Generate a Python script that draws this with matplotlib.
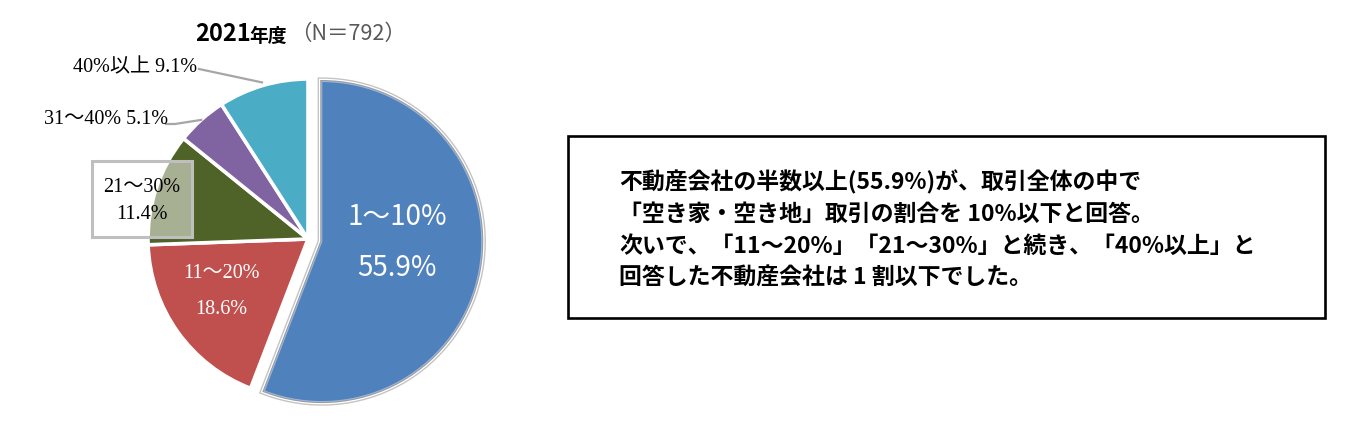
import numpy as np
import matplotlib.pyplot as plt
import matplotlib.patheffects as pe
from matplotlib.patches import Rectangle

# data
categories = ["1～10%", "11～20%", "21～30%", "31～40%", "40%以上"]
shares = [55.9, 18.6, 11.4, 5.1, 9.1]
colors = ["#4f81bd", "#c0504d", "#4f6228", "#8064a2", "#4bacc6"]
year_label = "2021年度"
n_total = 792
summary_lines = [
    "不動産会社の半数以上(55.9%)が、取引全体の中で",
    "「空き家・空き地」取引の割合を 10%以下と回答。",
    "次いで、「11～20%」「21～30%」と続き、「40%以上」と",
    "回答した不動産会社は 1 割以下でした。",
]

W, H = 1372, 427
SANS = ["Noto Sans CJK JP", "DejaVu Sans"]
SERIF = ["Liberation Serif", "Noto Sans CJK JP"]


def Y(y):
    # pixel row (from top) -> data y
    return H - y


fig = plt.figure(figsize=(W / 100, H / 100), dpi=100)
ax = fig.add_axes([0, 0, 1, 1])

# explode is in data units here (pixels)
wedges, _ = ax.pie(shares, colors=colors, startangle=90, counterclock=False,
                   center=(308, Y(240)), radius=160,
                   explode=[14, 0, 0, 0, 0],
                   wedgeprops=dict(edgecolor="white", linewidth=2.6))
ax.set_xlim(0, W)
ax.set_ylim(0, H)
ax.set_aspect("equal")
ax.axis("off")

# selected look on the big slice
wedges[0].set_edgecolor("#9db4d6")
wedges[0].set_linewidth(0.8)
wedges[0].set_path_effects([
    pe.Stroke(linewidth=6.0, foreground="#c4c4c4"),
    pe.Stroke(linewidth=4.0, foreground="white"),
    pe.Stroke(linewidth=2.2, foreground="#9a9a9a"),
    pe.Normal(),
])


def edge_point(w, frac=1.0):
    mid = np.deg2rad((w.theta1 + w.theta2) / 2)
    cx, cy = w.center
    return cx + w.r * frac * np.cos(mid), cy + w.r * frac * np.sin(mid)


# title
ax.text(195, Y(34), year_label[:4], fontsize=17, fontweight="bold",
        family=SANS, ha="left", va="center")
ax.text(249, Y(36), year_label[4:], fontsize=13.5, fontweight="bold",
        family=SANS, ha="left", va="center")
ax.text(290, Y(34), f"（N＝{n_total}）", fontsize=15.5, color="#595959",
        family=SANS, ha="left", va="center")

# inner labels
ax.text(397, Y(217), categories[0], fontsize=20, color="white",
        family=SANS, ha="center", va="center")
ax.text(397, Y(268), f"{shares[0]}%", fontsize=20, color="white",
        family=SANS, ha="center", va="center")
ax.text(221, Y(274), categories[1], fontsize=14.5, color="white",
        family=SERIF, ha="center", va="center")
ax.text(221, Y(310), f"{shares[1]}%", fontsize=14.5, color="white",
        family=SERIF, ha="center", va="center")

# 21-30% boxed label
ax.add_patch(Rectangle((92, Y(238)), 100, 76, facecolor="white", alpha=0.5,
                       edgecolor="none", zorder=3))
ax.add_patch(Rectangle((92, Y(238)), 100, 76, facecolor="none",
                       edgecolor="#bfbfbf", linewidth=2.2, zorder=3))
ax.text(142, Y(188), categories[2], fontsize=14.5, color="black",
        family=SERIF, ha="center", va="center", zorder=4)
ax.text(142, Y(215), f"{shares[2]}%", fontsize=14.5, color="black",
        family=SERIF, ha="center", va="center", zorder=4)

# outside labels with leader lines
ax.text(197, Y(68), f"{categories[4]} {shares[4]}%", fontsize=14.5,
        family=SERIF, ha="right", va="center")
px, py = edge_point(wedges[4], 1.02)
ax.plot([199, px], [Y(70), py], color="#a6a6a6", lw=1.6)

ax.text(168, Y(119), f"{categories[3]} {shares[3]}%", fontsize=14.5,
        family=SERIF, ha="right", va="center")
px, py = edge_point(wedges[3], 1.0)
ax.plot([166, 175, px], [Y(125), Y(125), py], color="#a6a6a6", lw=1.6)

# summary box
ax.add_patch(Rectangle((568, Y(319)), 757, 182, facecolor="white",
                       edgecolor="black", linewidth=1.9))
for i, line in enumerate(summary_lines):
    ax.text(619, Y(182 + i * 32), line, fontsize=16.5, fontweight="bold",
            family=SANS, ha="left", va="center")

fig.savefig("out.png", dpi=100)
